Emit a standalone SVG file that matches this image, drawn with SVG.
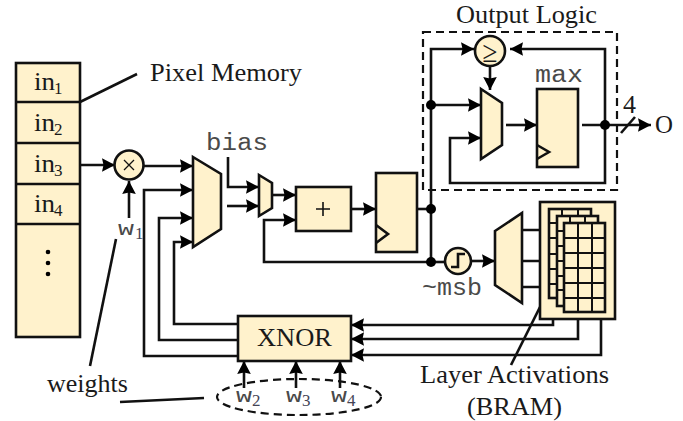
<svg xmlns="http://www.w3.org/2000/svg" width="683" height="421" viewBox="0 0 683 421">
<style>
.n{fill:#fff2cc;stroke:#111;stroke-width:2.6;stroke-linejoin:miter}
.w{fill:none;stroke:#111;stroke-width:2.6}
.a{marker-end:url(#ah)}
.d{fill:#000;stroke:none}
.g{fill:none;stroke:#111;stroke-width:2}
.t{font-family:"Liberation Serif","Times New Roman",serif;fill:#1a1a1a}
.m{font-family:"Liberation Mono","Courier New",monospace;fill:#4a4a4a}
.s{font-size:17px}
</style>
<defs>
<marker id="ah" markerUnits="userSpaceOnUse" markerWidth="16" markerHeight="16" refX="13" refY="8" orient="auto"><path d="M0,1.2 L13,8 L0,14.8 L1.5,8 Z" fill="#000"/></marker>
</defs>
<rect width="683" height="421" fill="#fff"/>
<g id="output-logic">
<rect x="423" y="32" width="194" height="158" fill="none" stroke="#111" stroke-width="2.2" stroke-dasharray="8 5"/>
<text class="t" x="456" y="23" font-size="25" textLength="141" lengthAdjust="spacingAndGlyphs">Output Logic</text>
</g>
<g id="connectors">
<path class="w" d="M80,102 L137,74"/>
<path class="w" d="M116,239 L90,366"/>
<path class="w" d="M120,402 L204,398"/>
<path class="w" d="M540,307 L511,365"/>
<path class="w a" d="M80,165 H115"/>
<path class="w a" d="M129,218 V181"/>
<path class="w a" d="M143,166 H193"/>
<path class="w a" d="M238,356 H144 V190 H193"/>
<path class="w a" d="M238,340 H159 V218 H193"/>
<path class="w a" d="M238,324 H174 V242 H193"/>
<path class="w a" d="M228,157 V187 H259"/>
<path class="w a" d="M227,206 H259"/>
<path class="w a" d="M272,195 H296"/>
<path class="w a" d="M430,262 H264 V220 H296"/>
<path class="w a" d="M352,209 H376"/>
<path class="w" d="M417,209 H431"/>
<path class="w a" d="M431,262 V49 H474"/>
<path class="w a" d="M431,105 H481"/>
<path class="w a" d="M605,125 V49 H510"/>
<path class="w a" d="M490,66 V90"/>
<path class="w a" d="M605,125 V183 H450 V138 H481"/>
<path class="w a" d="M506,125 H537"/>
<path class="w a" d="M582,125 H651"/>
<path class="w" d="M621,133 L635,117"/>
<path class="w" d="M431,262 H445"/>
<path class="w a" d="M471,261 H495"/>
<path class="w" d="M522,230 H540 M522,261 H540 M522,287 H540"/>
<path class="w a" d="M553,319 V325 H351"/>
<path class="w a" d="M578,319 V339 H351"/>
<path class="w a" d="M601,319 V355 H351"/>
<path class="w a" d="M244,388 V361"/>
<path class="w a" d="M296,388 V361"/>
<path class="w a" d="M340,388 V361"/>
<circle class="d" cx="431" cy="209" r="5"/>
<circle class="d" cx="431" cy="262" r="5"/>
<circle class="d" cx="431" cy="105" r="5"/>
<circle class="d" cx="605" cy="125" r="5"/>
</g>
<g id="pixel-memory">
<rect class="n" x="16" y="63" width="64" height="274"/>
<path class="w" d="M16,102 H80 M16,143 H80 M16,184 H80 M16,224 H80"/>
<text class="t" x="34" y="90" font-size="26" textLength="21" lengthAdjust="spacingAndGlyphs">in</text>
<text class="t s" x="54" y="94">1</text>
<text class="t" x="34" y="131" font-size="26" textLength="21" lengthAdjust="spacingAndGlyphs">in</text>
<text class="t s" x="54" y="135">2</text>
<text class="t" x="34" y="172" font-size="26" textLength="21" lengthAdjust="spacingAndGlyphs">in</text>
<text class="t s" x="54" y="176">3</text>
<text class="t" x="34" y="212" font-size="26" textLength="21" lengthAdjust="spacingAndGlyphs">in</text>
<text class="t s" x="54" y="216">4</text>
<circle class="d" cx="48" cy="252" r="2.3"/><circle class="d" cx="48" cy="263" r="2.3"/><circle class="d" cx="48" cy="274" r="2.3"/>
</g>
<g id="pixel-memory-label"><text class="t" x="150" y="81" font-size="25" textLength="152" lengthAdjust="spacingAndGlyphs">Pixel Memory</text></g>
<g id="multiplier">
<circle class="n" cx="129" cy="165" r="14.5"/>
<path d="M124,160 L134,170 M134,160 L124,170" fill="none" stroke="#111" stroke-width="1.3"/>
</g>
<g id="w1">
<text class="m" x="118" y="235" font-size="21" textLength="16" lengthAdjust="spacingAndGlyphs">w</text>
<text class="t s" x="135" y="239" style="fill:#445">1</text>
</g>
<g id="mux1"><path class="n" d="M193,157 L221,174 V229 L193,247 Z"/></g>
<g id="bias"><text class="m" x="206" y="150" font-size="23" textLength="62" lengthAdjust="spacingAndGlyphs">bias</text></g>
<g id="mux2"><path class="n" d="M259,175 L272,183 V208 L259,216 Z"/></g>
<g id="adder">
<rect class="n" x="296" y="187" width="55" height="44"/>
<path d="M316,209 H330 M323,202 V216" fill="none" stroke="#111" stroke-width="1.6"/>
</g>
<g id="register">
<rect class="n" x="376" y="173" width="41" height="79"/>
<path class="w" d="M376,225 L388,234 L376,243"/>
</g>
<g id="comparator">
<circle class="n" cx="490" cy="51" r="15"/>
<text class="t" x="482.500" y="62" font-size="30" textLength="15" lengthAdjust="spacingAndGlyphs">≥</text>
</g>
<g id="mux3"><path class="n" d="M481,89 L502,103 V145 L481,159 Z"/></g>
<g id="max-register">
<rect class="n" x="537" y="89" width="41" height="78"/>
<path class="w" d="M537,145 L549,152 L537,159"/>
<text class="m" x="535" y="82" font-size="23" textLength="48" lengthAdjust="spacingAndGlyphs">max</text>
</g>
<g id="output">
<text class="t" x="623" y="113" font-size="26" textLength="13" lengthAdjust="spacingAndGlyphs">4</text>
<text class="t" x="655" y="133" font-size="26" textLength="18" lengthAdjust="spacingAndGlyphs">O</text>
</g>
<g id="step">
<circle class="n" cx="458" cy="261" r="13"/>
<path class="w" d="M451,267 H458 V254 H465"/>
<text class="m" x="422" y="295" font-size="23" textLength="60" lengthAdjust="spacingAndGlyphs">~msb</text>
</g>
<g id="mux4"><path class="n" d="M495,231 L522,213 V303 L495,285 Z"/></g>
<g id="bram">
<rect class="n" x="540" y="202" width="75" height="117"/>
<rect class="n" x="549" y="209" width="42" height="89"/>
<path class="g" d="M562,209 V298 M578,209 V298 M549,223 H591 M549,238 H591 M549,254 H591 M549,269 H591 M549,284 H591"/>
<rect class="n" x="557" y="216" width="41" height="90"/>
<path class="g" d="M570,216 V306 M585,216 V306 M557,231 H598 M557,246 H598 M557,261 H598 M557,276 H598 M557,290 H598"/>
<rect class="n" x="564" y="223" width="41" height="89"/>
<path class="g" d="M578,223 V312 M592,223 V312 M564,238 H605 M564,253 H605 M564,268 H605 M564,283 H605 M564,298 H605"/>
</g>
<g id="bram-label">
<text class="t" x="420" y="383" font-size="25" textLength="189" lengthAdjust="spacingAndGlyphs">Layer Activations</text>
<text class="t" x="467" y="415" font-size="25" textLength="95" lengthAdjust="spacingAndGlyphs">(BRAM)</text>
</g>
<g id="xnor">
<rect class="n" x="238" y="316" width="113" height="45"/>
<text class="t" x="257" y="346" font-size="25" textLength="75" lengthAdjust="spacingAndGlyphs">XNOR</text>
</g>
<g id="weights">
<text class="t" x="47" y="392" font-size="25" textLength="81" lengthAdjust="spacingAndGlyphs">weights</text>
<ellipse cx="299" cy="397" rx="82" ry="18" fill="none" stroke="#111" stroke-width="2.2" stroke-dasharray="8 5"/>
<text class="m" x="236" y="402" font-size="21" textLength="16" lengthAdjust="spacingAndGlyphs">w</text><text class="t s" x="252" y="406" style="fill:#445">2</text>
<text class="m" x="286" y="402" font-size="21" textLength="16" lengthAdjust="spacingAndGlyphs">w</text><text class="t s" x="302" y="406" style="fill:#445">3</text>
<text class="m" x="331" y="402" font-size="21" textLength="16" lengthAdjust="spacingAndGlyphs">w</text><text class="t s" x="347" y="406" style="fill:#445">4</text>
</g>
</svg>
